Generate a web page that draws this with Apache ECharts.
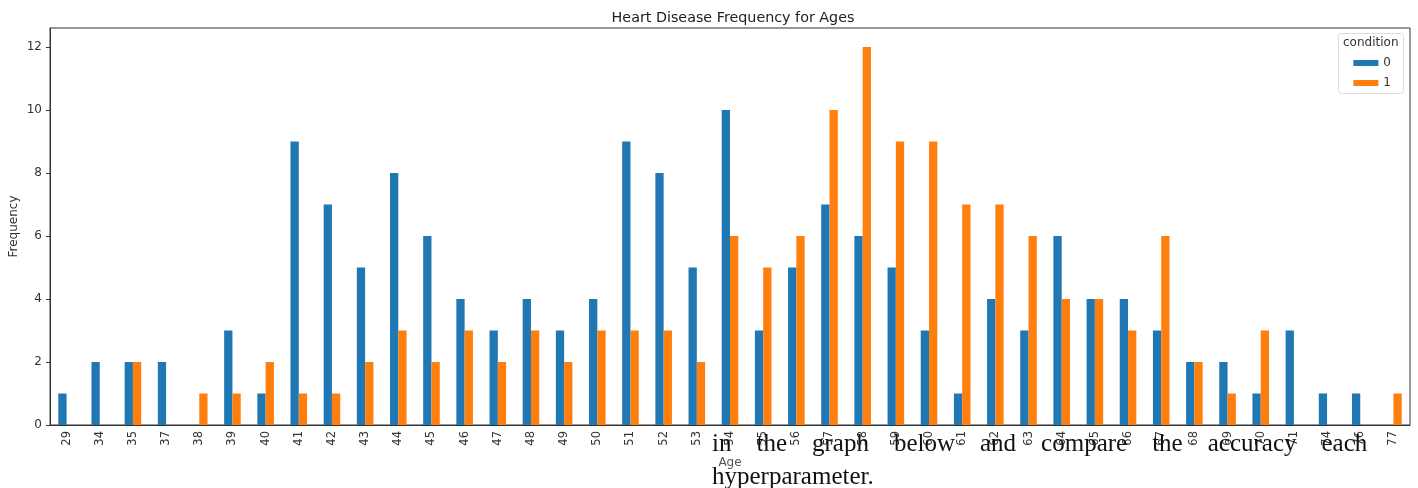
<!DOCTYPE html>
<html>
<head>
<meta charset="utf-8">
<script src="https://cdn.jsdelivr.net/npm/echarts@6/dist/echarts.min.js"></script>
<style>
  html, body { margin: 0; padding: 0; background: #fff; }
  #chart { width: 1418px; height: 488px; }
</style>
</head>
<body>
<div id="chart"></div>
<script>
const ages = ['29', '34', '35', '37', '38', '39', '40', '41', '42', '43', '44', '45', '46', '47', '48', '49', '50',
  '51', '52', '53', '54', '55', '56', '57', '58', '59', '60', '61', '62', '63', '64', '65', '66', '67', '68', '69',
  '70', '71', '74', '76', '77']
const condition0 = [1, 2, 2, 2, 0, 3, 1, 9, 7, 5, 8, 6, 4, 3, 4, 3, 4, 9, 8, 5, 10, 3, 5, 7, 6, 5, 3, 1, 4, 3, 6, 4, 4, 3, 2, 2, 1, 3, 1, 1, 0]
const condition1 = [0, 0, 2, 0, 1, 1, 2, 1, 1, 2, 3, 2, 3, 2, 3, 2, 3, 3, 3, 2, 6, 5, 6, 10, 12, 9, 9, 7, 7, 6, 4, 4, 3, 6, 2, 1, 3, 0, 0, 0, 1]
const yTicks = [0, 2, 4, 6, 8, 10, 12]

const chart = echarts.init(document.getElementById('chart'))
const font = 'DejaVu Sans'
const axisColor = '#333'

chart.setOption({
  animation: false,
  textStyle: { fontFamily: font },
  title: {
    text: 'Heart Disease Frequency for Ages',
    left: 728, top: 6, textAlign: 'center',
    textStyle: { fontSize: 14.3, fontWeight: 'normal', color: '#222', fontFamily: font },
  },
  grid: {
    left: 50, right: 8, top: 28, bottom: 63,
    show: true, borderColor: axisColor, borderWidth: 1,
    outerBoundsMode: 'none',
  },
  legend: {
    data: ['0', '1'],
    orient: 'vertical',
    right: 22, top: 52,
    itemWidth: 25, itemHeight: 6, itemGap: 8,
    icon: 'rect',
    textStyle: { fontSize: 12, color: '#333', fontFamily: font },
  },
  xAxis: {
    type: 'category',
    data: ages,
    name: 'Age',
    nameLocation: 'middle',
    nameGap: 32,
    nameMoveOverlap: false,
    nameTextStyle: { fontSize: 12, color: '#555' },
    axisLine: { lineStyle: { color: axisColor } },
    axisTick: { alignWithLabel: true, length: 4, lineStyle: { color: axisColor } },
    axisLabel: { rotate: 90, fontSize: 11.5, color: '#333', interval: 0, margin: 6 },
  },
  yAxis: {
    type: 'value',
    min: 0, max: 12.6, interval: 2,
    name: 'Frequency',
    nameLocation: 'middle',
    nameGap: 30,
    nameMoveOverlap: false,
    nameTextStyle: { fontSize: 12, color: '#333' },
    splitLine: { show: false },
    axisLine: { show: true, lineStyle: { color: axisColor } },
    axisTick: { show: true, length: 4, lineStyle: { color: axisColor } },
    axisLabel: {
      fontSize: 12, color: '#333', margin: 8, showMaxLabel: false,
      formatter: (v) => (yTicks.includes(v) ? String(v) : ''),
    },
  },
  series: [
    { name: '0', type: 'bar', data: condition0, itemStyle: { color: '#1f77b4' }, barWidth: '25%', barGap: '0%' },
    { name: '1', type: 'bar', data: condition1, itemStyle: { color: '#ff7f0e' }, barWidth: '25%', barGap: '0%' },
  ],
  graphic: [
    {
      type: 'rect', left: 1338, top: 33,
      shape: { width: 65, height: 60, r: 3 },
      style: { fill: 'rgba(255,255,255,0.8)', stroke: '#ddd', lineWidth: 1 },
      z: 1,
    },
    {
      type: 'text', left: 1343, top: 37,
      style: { text: 'condition', fontSize: 12, fill: '#333', fontFamily: font },
      z: 10,
    },
    {
      type: 'text', left: 712, top: 432,
      style: { text: 'in    the    graph    below    and    compare    the    accuracy    each', fontSize: 25, fill: '#111', fontFamily: 'Liberation Serif' },
      z: 20,
    },
    {
      type: 'text', left: 712, top: 465,
      style: { text: 'hyperparameter.', fontSize: 25, fill: '#111', fontFamily: 'Liberation Serif' },
      z: 20,
    },
  ],
})
</script>
</body>
</html>
